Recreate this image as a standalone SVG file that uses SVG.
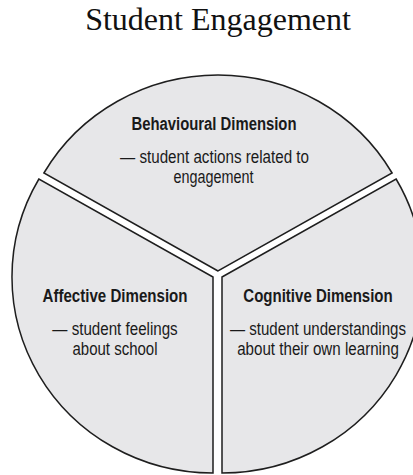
<svg xmlns="http://www.w3.org/2000/svg" width="413" height="475" viewBox="0 0 413 475">
  <style>
    .sector { fill: #e7e7e9; stroke: #1e1e1e; stroke-width: 1.5; stroke-linejoin: miter; }
    .head { font-family: "Liberation Sans", Arial, sans-serif; font-size: 17.5px; font-weight: bold; fill: #1a1a1a; text-anchor: middle; }
    .desc { font-family: "Liberation Sans", Arial, sans-serif; font-size: 17.5px; fill: #1a1a1a; text-anchor: middle; }
    .title { font-family: "Liberation Serif", "Times New Roman", serif; font-size: 32px; fill: #111; text-anchor: middle; }
  </style>
  <rect width="413" height="475" fill="#ffffff"/>

  <text class="title" x="218" y="30">Student Engagement</text>

  <!-- three exploded pie sectors; labels use a narrow setting via textLength -->
  <g id="behavioural">
    <path class="sector" d="M218,271 L43.9,173 A201,196 0 0 1 392.1,173 Z"/>
    <text class="head" x="214" y="130" textLength="165" lengthAdjust="spacingAndGlyphs">Behavioural Dimension</text>
    <text class="desc" x="214.5" y="163" textLength="189" lengthAdjust="spacingAndGlyphs">— student actions related to</text>
    <text class="desc" x="213.5" y="183" textLength="80" lengthAdjust="spacingAndGlyphs">engagement</text>
  </g>

  <g id="affective">
    <path class="sector" d="M213,277 L213,473 A201,196 0 0 1 38.9,179 Z"/>
    <text class="head" x="115" y="302" textLength="145" lengthAdjust="spacingAndGlyphs">Affective Dimension</text>
    <text class="desc" x="115" y="335" textLength="125.4" lengthAdjust="spacingAndGlyphs">— student feelings</text>
    <text class="desc" x="115" y="355" textLength="85" lengthAdjust="spacingAndGlyphs">about school</text>
  </g>

  <g id="cognitive">
    <path class="sector" d="M222,277 L396.1,179 A201,196 0 0 1 222,473 Z"/>
    <text class="head" x="318" y="302" textLength="149.4" lengthAdjust="spacingAndGlyphs">Cognitive Dimension</text>
    <text class="desc" x="318" y="335" textLength="176" lengthAdjust="spacingAndGlyphs">— student understandings</text>
    <text class="desc" x="318" y="355" textLength="161.7" lengthAdjust="spacingAndGlyphs">about their own learning</text>
  </g>

  <g id="connectors"/>
</svg>
